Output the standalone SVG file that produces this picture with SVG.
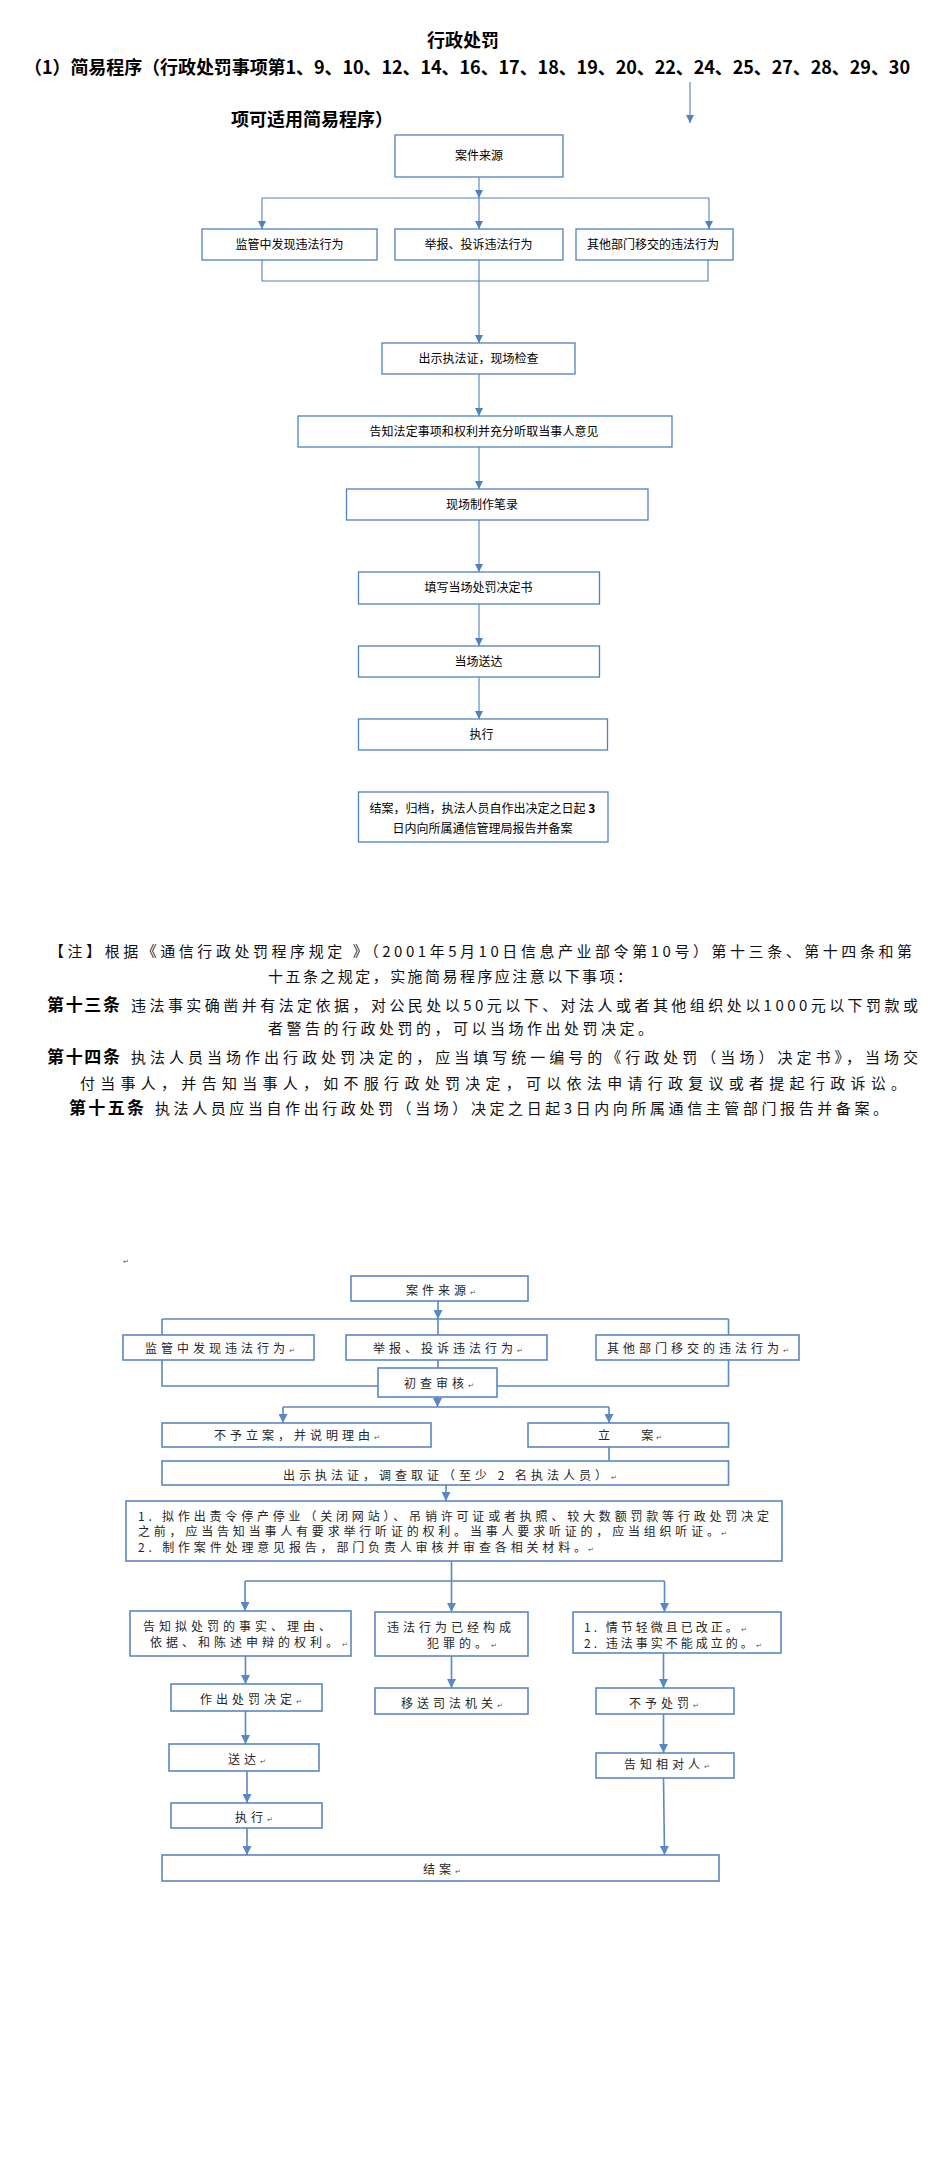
<svg xmlns="http://www.w3.org/2000/svg" width="939" height="2159" viewBox="0 0 939 2159">
<style>
.bg{fill:#ffffff}
.b1{fill:#ffffff;stroke:#4F81BD;stroke-width:1.3}
.b2{fill:#ffffff;stroke:#5B87C5;stroke-width:1.6}
.c1{fill:none;stroke:#4F81BD;stroke-width:1.1}
.c2{fill:none;stroke:#5B87C5;stroke-width:1.6}
.t1{font-family:"Noto Sans CJK SC","Liberation Sans",sans-serif;font-size:12px;fill:#000}
.t2{font-family:"Noto Sans CJK SC","Liberation Sans",sans-serif;font-size:12px;fill:#262626;letter-spacing:4px}
.t2m{font-family:"Noto Sans CJK SC","Liberation Sans",sans-serif;font-size:12px;fill:#262626}
.hd{font-family:"Noto Sans CJK SC","Liberation Serif",serif;font-size:18px;font-weight:bold;fill:#000}
.nt{font-family:"Noto Sans CJK SC","Liberation Serif",serif;font-size:15px;fill:#111}
.nb{font-family:"Noto Sans CJK SC","Liberation Serif",serif;font-size:17px;font-weight:bold;fill:#000}
.pm{font-size:7px;fill:#555;letter-spacing:0}
</style>
<defs>
<marker id="ah" viewBox="0 0 8 8" refX="8" refY="4" markerWidth="8" markerHeight="8" markerUnits="userSpaceOnUse" orient="auto"><path d="M0,0 L8,4 L0,8 z" fill="#4F81BD"/></marker>
<marker id="ah2" viewBox="0 0 9 9" refX="9" refY="4.5" markerWidth="9" markerHeight="9" markerUnits="userSpaceOnUse" orient="auto"><path d="M0,0 L9,4.5 L0,9 z" fill="#5B87C5"/></marker>
</defs>
<rect class="bg" x="0" y="0" width="939" height="2159"/>

<g id="header">
<text class="hd" x="463" y="47" text-anchor="middle">行政处罚</text>
<text class="hd" x="24" y="74" textLength="886" lengthAdjust="spacing">（1）简易程序（行政处罚事项第1、9、10、12、14、16、17、18、19、20、22、24、25、27、28、29、30</text>
<text class="hd" x="231" y="126">项可适用简易程序）</text>
</g>

<g id="connectors-1">
<path class="c1" d="M690,82 V123" marker-end="url(#ah)"/>
<path class="c1" d="M479,177 V198" marker-end="url(#ah)"/>
<path class="c1" d="M262,198 H709"/>
<path class="c1" d="M262,198 V229" marker-end="url(#ah)"/>
<path class="c1" d="M479,198 V229" marker-end="url(#ah)"/>
<path class="c1" d="M709,198 V229" marker-end="url(#ah)"/>
<path class="c1" d="M262,260 V281 H708 V260"/>
<path class="c1" d="M479,260 V343" marker-end="url(#ah)"/>
<path class="c1" d="M479,374 V416" marker-end="url(#ah)"/>
<path class="c1" d="M479,447 V489" marker-end="url(#ah)"/>
<path class="c1" d="M479,520 V572" marker-end="url(#ah)"/>
<path class="c1" d="M479,604 V646" marker-end="url(#ah)"/>
<path class="c1" d="M479,677 V719" marker-end="url(#ah)"/>
</g>

<g id="n1-source"><rect class="b1" x="395" y="135" width="168" height="42"/><text class="t1" x="479" y="160" text-anchor="middle">案件来源</text></g>
<g id="n1-supervise"><rect class="b1" x="202" y="229" width="175" height="31"/><text class="t1" x="289.5" y="249" text-anchor="middle">监管中发现违法行为</text></g>
<g id="n1-report"><rect class="b1" x="395" y="229" width="168" height="31"/><text class="t1" x="478.5" y="249" text-anchor="middle">举报、投诉违法行为</text></g>
<g id="n1-transfer"><rect class="b1" x="576" y="229" width="157" height="31"/><text class="t1" x="653" y="249" text-anchor="middle">其他部门移交的违法行为</text></g>
<g id="n1-show"><rect class="b1" x="382" y="343" width="193" height="31"/><text class="t1" x="478.5" y="362.5" text-anchor="middle">出示执法证，现场检查</text></g>
<g id="n1-inform"><rect class="b1" x="298" y="416" width="374" height="31"/><text class="t1" x="369.5" y="435.5" textLength="229" lengthAdjust="spacing">告知法定事项和权利并充分听取当事人意见</text></g>
<g id="n1-record"><rect class="b1" x="346.5" y="489" width="301.5" height="31"/><text class="t1" x="482" y="508.5" text-anchor="middle">现场制作笔录</text></g>
<g id="n1-fill"><rect class="b1" x="358.5" y="572" width="241" height="32"/><text class="t1" x="478.5" y="592" text-anchor="middle">填写当场处罚决定书</text></g>
<g id="n1-deliver"><rect class="b1" x="358.5" y="646" width="241" height="31"/><text class="t1" x="478.5" y="665.5" text-anchor="middle">当场送达</text></g>
<g id="n1-execute"><rect class="b1" x="358.5" y="719" width="249" height="31"/><text class="t1" x="481.5" y="738.5" text-anchor="middle">执行</text></g>
<g id="n1-close"><rect class="b1" x="358.5" y="792" width="249.5" height="50"/>
<text class="t1" x="482.5" y="812.5" text-anchor="middle">结案，归档，执法人员自作出决定之日起 <tspan font-weight="bold">3</tspan></text>
<text class="t1" x="482.5" y="832.5" text-anchor="middle">日内向所属通信管理局报告并备案</text></g>

<g id="notes">
<text class="nt" x="49" y="957" textLength="863" lengthAdjust="spacing">【注】根据《通信行政处罚程序规定 》（2001年5月10日信息产业部令第10号）第十三条、第十四条和第</text>
<text class="nt" x="268" y="982" textLength="364" lengthAdjust="spacing">十五条之规定，实施简易程序应注意以下事项：</text>
<text class="nb" x="47" y="1011" textLength="73" lengthAdjust="spacing">第十三条</text>
<text class="nt" x="131" y="1011" textLength="787" lengthAdjust="spacing">违法事实确凿并有法定依据，对公民处以50元以下、对法人或者其他组织处以1000元以下罚款或</text>
<text class="nt" x="268" y="1034" textLength="385" lengthAdjust="spacing">者警告的行政处罚的，可以当场作出处罚决定。</text>
<text class="nb" x="47" y="1063" textLength="73" lengthAdjust="spacing">第十四条</text>
<text class="nt" x="131" y="1063" textLength="787" lengthAdjust="spacing">执法人员当场作出行政处罚决定的，应当填写统一编号的《行政处罚（当场）决定书》，当场交</text>
<text class="nt" x="80" y="1089" textLength="826" lengthAdjust="spacing">付当事人，并告知当事人，如不服行政处罚决定，可以依法申请行政复议或者提起行政诉讼。</text>
<text class="nb" x="69" y="1114" textLength="75" lengthAdjust="spacing">第十五条</text>
<text class="nt" x="155" y="1114" textLength="733" lengthAdjust="spacing">执法人员应当自作出行政处罚（当场）决定之日起3日内向所属通信主管部门报告并备案。</text>
</g>

<g id="connectors-2">
<path class="c2" d="M438,1301 V1319" marker-end="url(#ah2)"/>
<path class="c2" d="M162,1319 H728.5"/>
<path class="c2" d="M162,1319 V1335"/>
<path class="c2" d="M438,1319 V1335"/>
<path class="c2" d="M728.5,1319 V1335"/>
<path class="c2" d="M162,1360 V1386 H378"/>
<path class="c2" d="M728.5,1360 V1386 H497"/>
<path class="c2" d="M438,1360 V1368"/>
<path class="c2" d="M437.5,1397 V1407" marker-end="url(#ah2)"/>
<path class="c2" d="M283,1407 H609"/>
<path class="c2" d="M283,1407 V1423" marker-end="url(#ah2)"/>
<path class="c2" d="M609,1407 V1423" marker-end="url(#ah2)"/>
<path class="c2" d="M609,1447 V1461"/>
<path class="c2" d="M446,1485 V1501" marker-end="url(#ah2)"/>
<path class="c2" d="M451.5,1561 V1581"/>
<path class="c2" d="M245,1581 H664.5"/>
<path class="c2" d="M245,1581 V1611" marker-end="url(#ah2)"/>
<path class="c2" d="M451.5,1581 V1612" marker-end="url(#ah2)"/>
<path class="c2" d="M664.5,1581 V1612" marker-end="url(#ah2)"/>
<path class="c2" d="M245.5,1656 V1684" marker-end="url(#ah2)"/>
<path class="c2" d="M245.5,1711 V1744" marker-end="url(#ah2)"/>
<path class="c2" d="M247,1771 V1803" marker-end="url(#ah2)"/>
<path class="c2" d="M247,1828 V1855" marker-end="url(#ah2)"/>
<path class="c2" d="M451.5,1656 V1688" marker-end="url(#ah2)"/>
<path class="c2" d="M663.5,1653 V1688" marker-end="url(#ah2)"/>
<path class="c2" d="M663.5,1714 V1753" marker-end="url(#ah2)"/>
<path class="c2" d="M663.5,1778 L664.5,1855" marker-end="url(#ah2)"/>
</g>

<g id="n2-mark"><text class="t2m pm" x="123" y="1264">↵</text></g>
<g id="n2-source"><rect class="b2" x="351" y="1276" width="177" height="25"/><text class="t2" x="406" y="1295">案件来源<tspan class="pm">↵</tspan></text></g>
<g id="n2-supervise"><rect class="b2" x="123" y="1335" width="191" height="25"/><text class="t2" x="145" y="1353">监管中发现违法行为<tspan class="pm">↵</tspan></text></g>
<g id="n2-report"><rect class="b2" x="346" y="1335" width="201" height="25"/><text class="t2" x="373" y="1353">举报、投诉违法行为<tspan class="pm">↵</tspan></text></g>
<g id="n2-transfer"><rect class="b2" x="596" y="1335" width="203" height="25"/><text class="t2" x="607" y="1353">其他部门移交的违法行为<tspan class="pm">↵</tspan></text></g>
<g id="n2-review"><rect class="b2" x="378" y="1368" width="119" height="29"/><text class="t2" x="404" y="1388">初查审核<tspan class="pm">↵</tspan></text></g>
<g id="n2-reject"><rect class="b2" x="162" y="1423" width="269" height="24"/><text class="t2" x="214" y="1440">不予立案，并说明理由<tspan class="pm">↵</tspan></text></g>
<g id="n2-file"><rect class="b2" x="528" y="1423" width="200.5" height="24"/><text class="t2" x="598" y="1440" style="letter-spacing:2.4px">立　　案<tspan class="pm">↵</tspan></text></g>
<g id="n2-investigate"><rect class="b2" x="162" y="1461" width="566.5" height="24"/><text class="t2" x="283" y="1480">出示执法证，调查取证（至少 2 名执法人员）<tspan class="pm">↵</tspan></text></g>
<g id="n2-hearing"><rect class="b2" x="126" y="1501" width="656" height="60"/>
<text class="t2m" x="138" y="1521" textLength="631" lengthAdjust="spacing">1.  拟作出责令停产停业（关闭网站）、吊销许可证或者执照、较大数额罚款等行政处罚决定</text>
<text class="t2m" x="138" y="1536" textLength="581" lengthAdjust="spacing">之前，应当告知当事人有要求举行听证的权利。当事人要求听证的，应当组织听证。</text>
<text class="t2m pm" x="721" y="1536">↵</text>
<text class="t2m" x="138" y="1552" textLength="448" lengthAdjust="spacing">2.  制作案件处理意见报告，部门负责人审核并审查各相关材料。</text>
<text class="t2m pm" x="588" y="1552">↵</text>
</g>
<g id="n2-notify"><rect class="b2" x="130" y="1611" width="221" height="45"/>
<text class="t2" x="143" y="1631">告知拟处罚的事实、理由、</text>
<text class="t2" x="150" y="1647">依据、和陈述申辩的权利。<tspan class="pm">↵</tspan></text></g>
<g id="n2-decide"><rect class="b2" x="171" y="1684" width="151" height="27"/><text class="t2" x="200" y="1704">作出处罚决定<tspan class="pm">↵</tspan></text></g>
<g id="n2-serve"><rect class="b2" x="169" y="1744" width="150" height="27"/><text class="t2" x="228" y="1764">送达<tspan class="pm">↵</tspan></text></g>
<g id="n2-exec"><rect class="b2" x="171" y="1803" width="151" height="25"/><text class="t2" x="235" y="1822">执行<tspan class="pm">↵</tspan></text></g>
<g id="n2-crime"><rect class="b2" x="375" y="1612" width="153" height="44"/>
<text class="t2" x="387" y="1632">违法行为已经构成</text>
<text class="t2" x="427" y="1648">犯罪的。<tspan class="pm">↵</tspan></text></g>
<g id="n2-judicial"><rect class="b2" x="375" y="1688" width="153" height="26"/><text class="t2" x="401" y="1708">移送司法机关<tspan class="pm">↵</tspan></text></g>
<g id="n2-minor"><rect class="b2" x="573" y="1612" width="208" height="41"/>
<text class="t2" x="584" y="1632" style="letter-spacing:3px">1.  情节轻微且已改正。<tspan class="pm">↵</tspan></text>
<text class="t2" x="584" y="1648" style="letter-spacing:3px">2.  违法事实不能成立的。<tspan class="pm">↵</tspan></text></g>
<g id="n2-nopenalty"><rect class="b2" x="596" y="1688" width="138" height="26"/><text class="t2" x="629" y="1708">不予处罚<tspan class="pm">↵</tspan></text></g>
<g id="n2-tell"><rect class="b2" x="596" y="1753" width="138" height="25"/><text class="t2" x="624" y="1769">告知相对人<tspan class="pm">↵</tspan></text></g>
<g id="n2-close"><rect class="b2" x="162" y="1855" width="557" height="26"/><text class="t2" x="423" y="1874">结案<tspan class="pm">↵</tspan></text></g>
</svg>
